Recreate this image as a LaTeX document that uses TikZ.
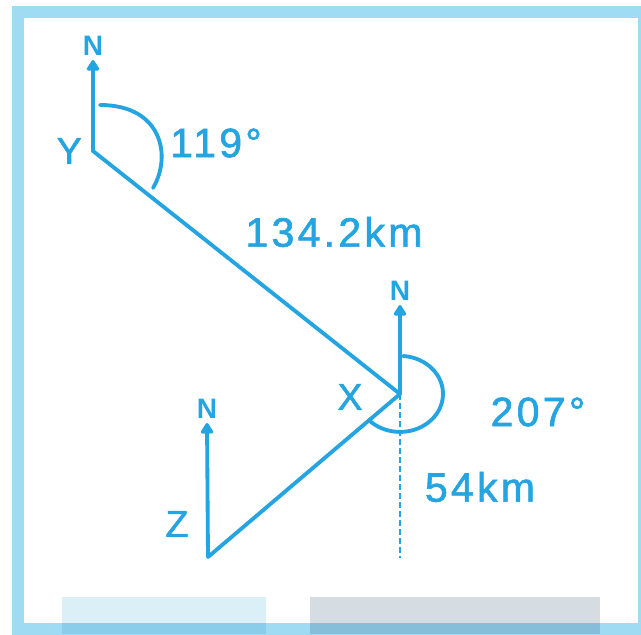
\documentclass[tikz,border=0pt]{standalone}
\usepackage{fontspec}
\setmainfont{Liberation Sans}
\usetikzlibrary{arrows.meta, positioning}

\definecolor{ink}{RGB}{36,164,224}
\definecolor{frameblue}{RGB}{160,219,244}
\definecolor{tabblue}{RGB}{219,239,246}
\definecolor{tabgrey}{RGB}{214,221,226}

\begin{document}
\begin{tikzpicture}[
        x=0.03cm, y=0.03cm,
        line/.style={draw=ink, line width=0.115cm, line cap=round, line join=round},
        north/.style={line, -{Triangle[width=0.42cm, length=0.36cm, round]}},
        lbl/.style={text=ink, inner sep=0pt, font=\fontsize{35}{37}\selectfont\addfontfeatures{LetterSpace=8, FakeBold=1.5}},
        nlbl/.style={text=ink, inner sep=0pt, font=\fontsize{24}{26}\selectfont\bfseries},
        pt/.style={text=ink, inner sep=0pt, font=\fontsize{32}{34}\selectfont\addfontfeatures{FakeBold=1.5}}
    ]
        \useasboundingbox (0,0) rectangle (641,634);
        \clip (0,0) rectangle (641,634);
        \fill[white] (0,0) rectangle (641,634);

        % Frame and tabs
        \draw[frameblue, line width=0.36cm] (18,5) rectangle (644,622);
        \fill[tabblue, blend mode=multiply] (62,0) rectangle (266,37);
        \fill[tabgrey, blend mode=multiply] (310,0) rectangle (600,37);

        % Points
        \coordinate (Y) at (93,483);
        \coordinate (X) at (400,240);
        \coordinate (Z) at (208,77);
        \coordinate (ny) at (93,574);
        \coordinate (nx) at (400,329);
        \coordinate (nz) at (207,211);
        \coordinate (foot) at (400,76);

        % North lines
        \draw[north] (Y) -- (ny);
        \draw[north] (X) -- (nx);
        \draw[north] (Z) -- (nz);
        \node[nlbl, above=0.12cm of ny] (nyl) {N};
        \node[nlbl, above=0.12cm of nx] (nxl) {N};
        \node[nlbl, above=0.12cm of nz] (nzl) {N};

        % Journey
        \draw[line] (Y) -- (X) -- (Z);
        \draw[draw=ink, line width=0.08cm, dash pattern=on 0.18cm off 0.09cm] (X) -- (foot);

        % Bearings
        \draw[line] ([shift={(7,46)}]Y) .. controls +(62,0) and +(19,32) .. ([shift={(60,-37)}]Y);
        \draw[line] ([shift={(3,38)}]X) arc[start angle=86, end angle=-136, x radius=43, y radius=38];

        % Labels
        \node[pt, left=0.33cm of Y] (ylbl) {Y};
        \node[pt] (xlbl) at (350,237) {X};
        \node[pt] (zlbl) at (177,110) {Z};
        \node[lbl] (b1) at (216,491) {119°};
        \node[lbl] (d1) at (334,402) {134.2km};
        \node[lbl] (b2) at (538,222) {207°};
        \node[lbl] (d2) at (480,147) {54km};
    \end{tikzpicture}
\end{document}
